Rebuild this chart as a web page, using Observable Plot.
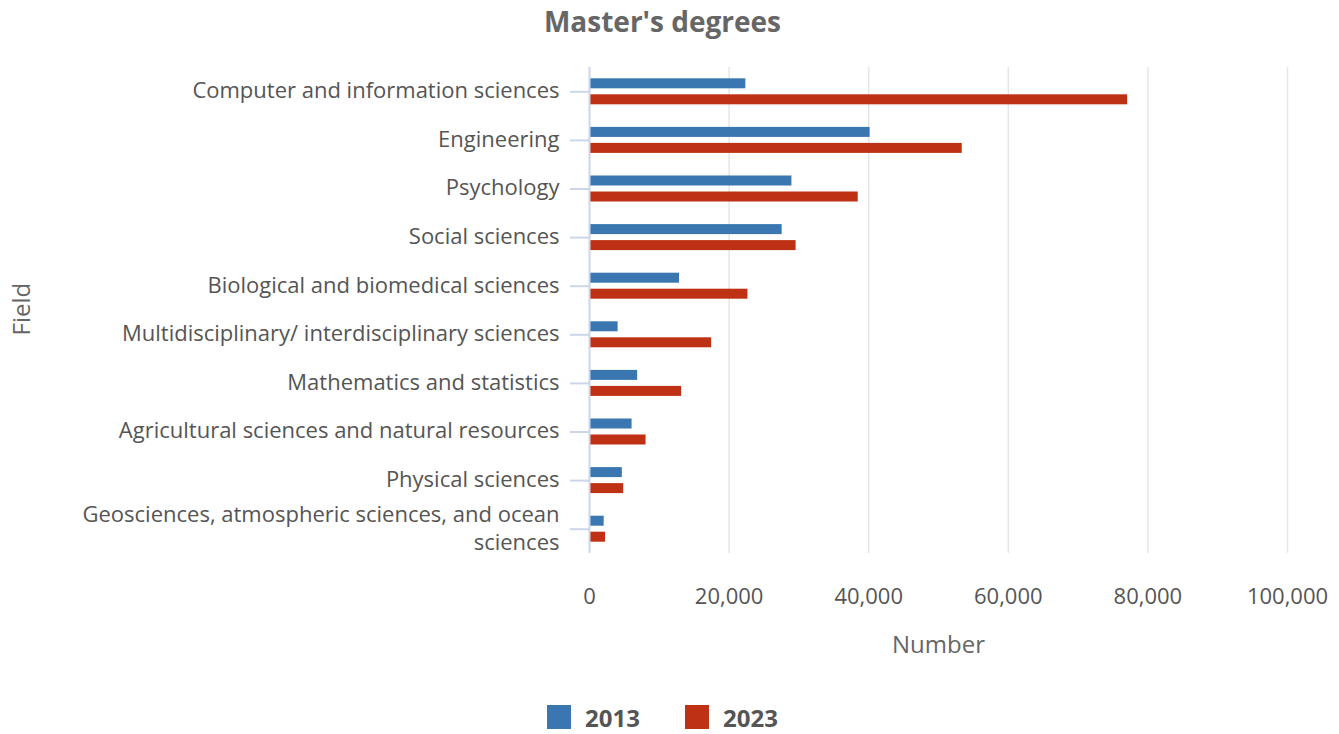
<!DOCTYPE html>
<html>
<head>
<meta charset="utf-8">
<script src="https://cdn.jsdelivr.net/npm/d3@7"></script>
<script src="https://cdn.jsdelivr.net/npm/@observablehq/plot@0.6"></script>
<style>
  html, body { margin: 0; padding: 0; background: #fff; }
  body { width: 1339px; height: 734px; overflow: hidden; font-family: "Open Sans", sans-serif; }
  #title { height: 42px; line-height: 42px; text-align: center; font-size: 28px; font-weight: 700; color: #666; padding-right: 14px; }
  #chart svg { display: block; }
  #legend { height: 50px; display: flex; justify-content: center; align-items: center; padding-right: 14px; }
  .item { display: flex; align-items: center; font-size: 24px; font-weight: 700; color: #555; }
  .item + .item { margin-left: 45px; }
  .sw { width: 24px; height: 24px; margin-right: 14px; }
</style>
</head>
<body>
<div id="title">Master's degrees</div>
<div id="chart"></div>
<div id="legend"></div>
<script>
const categories = [
  "Computer and information sciences",
  "Engineering",
  "Psychology",
  "Social sciences",
  "Biological and biomedical sciences",
  "Multidisciplinary/ interdisciplinary sciences",
  "Mathematics and statistics",
  "Agricultural sciences and natural resources",
  "Physical sciences",
  "Geosciences, atmospheric sciences, and ocean sciences"
];
const years = ["2013", "2023"];
const values2013 = [22400, 40200, 29000, 27600, 12900, 4100, 6900, 6100, 4700, 2100];
const values2023 = [77100, 53400, 38500, 29600, 22700, 17500, 13200, 8100, 4900, 2300];
const xTicks = [0, 20000, 40000, 60000, 80000, 100000];
const colors = ["#3a77b0", "#bf3115"];

const d2013 = categories.map((c, i) => ({field: c, year: years[0], value: values2013[i]}));
const d2023 = categories.map((c, i) => ({field: c, year: years[1], value: values2023[i]}));

const wrapLabel = d => d === categories[9]
  ? "Geosciences, atmospheric sciences, and ocean\nsciences" : d;

const chart = Plot.plot({
  width: 1339,
  height: 650,
  marginLeft: 589,
  marginRight: 52,
  marginTop: 25,
  marginBottom: 139,
  style: {fontFamily: "'Open Sans', sans-serif", background: "white", overflow: "visible"},
  x: {domain: [0, 100000]},
  y: {domain: categories, padding: 0, round: false},
  color: {domain: years, range: colors},
  marks: [
    Plot.gridX(xTicks.slice(1), {stroke: "#e6e6e6", strokeOpacity: 1, strokeWidth: 1.5}),
    Plot.barX(d2013, {x: "value", y: "field", fill: "year", insetTop: 11.3, insetBottom: 27.3}),
    Plot.barX(d2023, {x: "value", y: "field", fill: "year", insetTop: 27.3, insetBottom: 11.3}),
    Plot.ruleX([0], {stroke: "#ccd6eb", strokeWidth: 2}),
    Plot.axisY({tickSize: 19, stroke: "#ccd6eb", strokeWidth: 2, tickFormat: () => "", label: null}),
    Plot.axisY({tickSize: 0, tickPadding: 30, fill: "#555", dy: -2.5,
      fontSize: 22, lineHeight: 1.27, label: null, tickFormat: wrapLabel}),
    Plot.axisX(xTicks, {tickSize: 0, tickPadding: 35, tickFormat: d3.format(","),
      fontSize: 22, fill: "#555", label: null}),
    Plot.text(["Number"], {frameAnchor: "bottom", dy: 99, fontSize: 24, fill: "#666"}),
    Plot.text(["Field"], {frameAnchor: "left", dx: -567, dy: 25, rotate: -90, fontSize: 24, fill: "#666"})
  ]
});
document.getElementById("chart").appendChild(chart);

const legend = document.getElementById("legend");
years.forEach((y, i) => {
  const item = document.createElement("div");
  item.className = "item";
  const sw = document.createElement("div");
  sw.className = "sw";
  sw.style.background = colors[i];
  item.appendChild(sw);
  item.appendChild(document.createTextNode(y));
  legend.appendChild(item);
});
</script>
</body>
</html>
